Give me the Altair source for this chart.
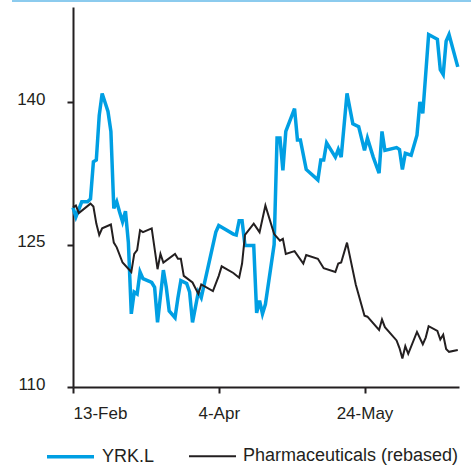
import altair as alt
import pandas as pd

# Daily closes, indexed; day offsets are counted from 13-Feb-2013
START = pd.Timestamp("2013-02-13")

yrk_days = [0, 1, 3, 5, 6, 7, 8, 9, 10, 12, 13, 14, 15, 16, 17, 18, 19, 20, 21, 22,
            23, 24, 27, 28, 29, 31, 32, 33, 35, 36, 37, 39, 40, 41, 43, 44, 49, 50, 55, 56,
            57, 58, 59, 62, 63, 64, 65, 66, 69, 70, 71, 72, 73, 76, 77, 78, 80, 84, 85, 86,
            87, 90, 91, 92, 94, 96, 98, 100, 101, 103, 105, 106, 107, 111, 112, 113, 114, 116, 118, 119,
            120, 122, 125, 126, 127, 128, 129, 132]
yrk_values = [128.9, 127.9, 129.5, 129.5, 129.8, 133.7, 133.9, 138.6, 140.9, 139.0,
              136.9, 128.8, 129.5, 128.4, 127.4, 128.5, 125.2, 117.7, 120.0, 119.8,
              122.1, 121.4, 121.0, 120.5, 116.8, 122.3, 120.5, 118.0, 117.3, 119.4,
              121.2, 120.9, 120.0, 116.8, 120.0, 119.4, 126.3, 127.0, 126.1, 126.0,
              127.5, 127.5, 124.9, 124.9, 117.8, 119.1, 117.7, 118.7, 125.0, 136.2,
              136.2, 132.8, 136.9, 139.3, 136.0, 136.0, 132.9, 131.8, 133.9, 133.9,
              135.7, 134.2, 135.0, 134.2, 140.9, 137.7, 137.4, 134.9, 136.2, 134.2,
              132.5, 136.9, 134.9, 135.2, 135.0, 132.9, 134.6, 134.4, 136.5, 140.0,
              138.8, 147.1, 146.6, 143.4, 142.9, 146.4, 147.1, 143.7]

pharma_days = [0, 1, 2, 6, 7, 8, 9, 10, 13, 14, 15, 17, 20, 21, 22, 23, 24, 27, 29, 30,
               31, 35, 36, 37, 38, 41, 43, 44, 48, 50, 51, 55, 57, 58, 59, 62, 64, 66, 69, 71,
               72, 73, 76, 79, 80, 84, 86, 90, 91, 92, 94, 97, 100, 101, 105, 106, 107, 111, 112, 113,
               114, 115, 118, 120, 121, 122, 125, 126, 127, 128, 129, 132]
pharma_values = [128.9, 129.1, 128.3, 129.3, 129.0, 127.2, 126.0, 126.7, 127.1, 125.2,
                 124.7, 123.1, 122.1, 124.0, 124.4, 126.5, 126.3, 126.7, 122.4, 124.0,
                 123.1, 124.0, 123.5, 123.5, 121.7, 121.0, 119.8, 120.8, 120.1, 121.7,
                 122.7, 122.0, 121.5, 123.0, 126.0, 127.2, 126.3, 129.1, 126.1, 125.4,
                 125.6, 124.0, 124.3, 123.0, 123.9, 123.5, 122.5, 122.1, 123.0, 123.1,
                 125.2, 120.8, 117.5, 117.4, 116.0, 117.1, 116.3, 114.9, 114.1, 113.0,
                 114.3, 113.5, 115.8, 114.5, 115.2, 116.4, 115.9, 115.0, 115.5, 114.0,
                 113.7, 113.9]

SERIES = ["YRK.L", "Pharmaceuticals (rebased)"]
COLORS = ["#009fe3", "#231f20"]
WIDTHS = [3.5, 2.0]
Y_TICKS = [110, 125, 140]
FONT = "Liberation Sans"


def frame(name, days, values):
    return pd.DataFrame({
        "date": START + pd.to_timedelta(days, unit="D"),
        "value": values,
        "series": name,
    })


df = pd.concat([frame(SERIES[0], yrk_days, yrk_values),
                frame(SERIES[1], pharma_days, pharma_values)], ignore_index=True)

legend = alt.Legend(
    title=None, orient="none", legendX=-28, legendY=424, direction="horizontal",
    symbolType="stroke", symbolSize=2209, labelFont=FONT, labelFontSize=18,
    labelColor="#231f20", labelOffset=6, labelLimit=320, columnPadding=30, padding=0,
)

lines = alt.Chart(df).mark_line().encode(
    x=alt.X(
        "date:T",
        scale=alt.Scale(domain=[alt.DateTime(year=2013, month=2, date=13),
                                alt.DateTime(year=2013, month=6, date=25, hours=10)]),
        axis=alt.Axis(
            title=None, format="%-d-%b", labelPadding=12,
            values=[alt.DateTime(year=2013, month=2, date=13),
                    alt.DateTime(year=2013, month=4, date=4),
                    alt.DateTime(year=2013, month=5, date=24)],
        ),
    ),
    y=alt.Y(
        "value:Q",
        scale=alt.Scale(domain=[110, 150], nice=False, zero=False),
        axis=alt.Axis(title=None, values=Y_TICKS, labelPadding=22, labelOffset=-3),
    ),
    color=alt.Color("series:N", scale=alt.Scale(domain=SERIES, range=COLORS), legend=legend),
    strokeWidth=alt.StrokeWidth("series:N", scale=alt.Scale(domain=SERIES, range=WIDTHS),
                                legend=legend),
)

# thin light-blue rule across the top of the figure
top_rule = alt.Chart(pd.DataFrame({"k": [0]})).mark_rule(
    color="#8ccbee", strokeWidth=2
).encode(x=alt.value(-61), x2=alt.value(398), y=alt.value(-6))

chart = alt.layer(lines, top_rule).properties(
    width=386, height=380,
    padding={"left": 73, "top": 7, "right": 12, "bottom": 79},
    autosize=alt.AutoSizeParams(type="none"),
).configure_view(stroke=None).configure_axis(
    grid=False, domainColor="#231f20", domainWidth=2, tickColor="#231f20",
    tickWidth=2, tickSize=6, labelFont=FONT, labelFontSize=17, labelColor="#231f20",
)

chart.save("out.html", embed_options={"renderer": "svg", "actions": False})
